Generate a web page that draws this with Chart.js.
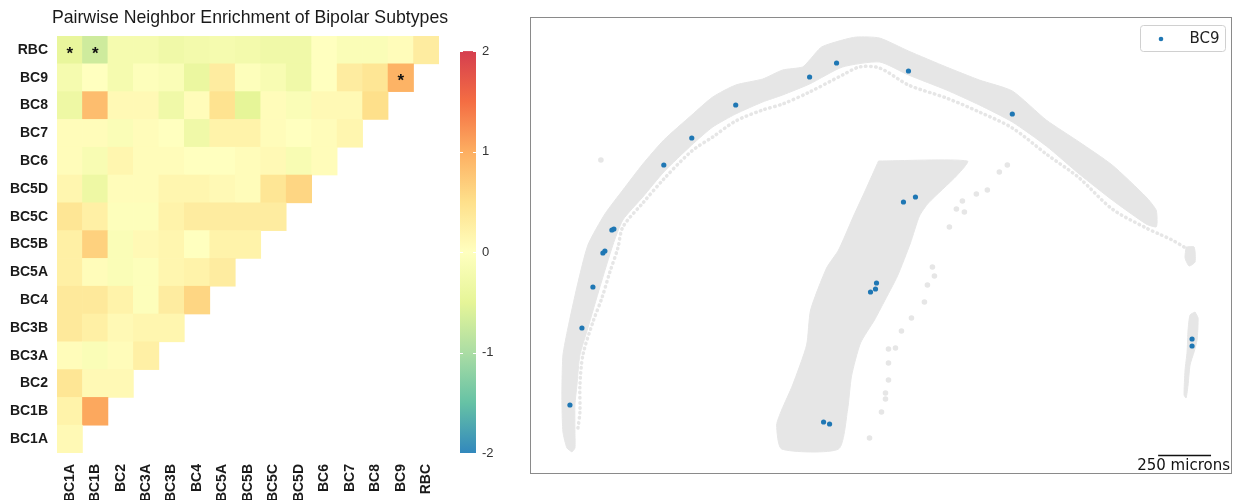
<!DOCTYPE html>
<html>
<head>
<meta charset="utf-8">
<script src="https://cdn.jsdelivr.net/npm/chart.js@4.4.0/dist/chart.umd.min.js"></script>
<style>
  html, body { margin: 0; padding: 0; background: #fff; }
  #wrap { position: relative; width: 1236px; height: 500px; overflow: hidden; }
  #heat { position: absolute; left: 0; top: 0; }
  #tissue { position: absolute; left: 520px; top: 0; }
</style>
</head>
<body>
<div id="wrap">
  <canvas id="heat" width="500" height="500"></canvas>
  <canvas id="tissue" width="716" height="500"></canvas>
</div>
<script>
// ---------- heatmap data ----------
var subtypes = ['BC1A', 'BC1B', 'BC2', 'BC3A', 'BC3B', 'BC4', 'BC5A', 'BC5B', 'BC5C', 'BC5D', 'BC6', 'BC7', 'BC8', 'BC9', 'RBC'];

// lower triangle, row i holds columns 0..i
var enrichBC1A = [0.1];
var enrichBC1B = [0.2, 1.05];
var enrichBC2  = [0.4, 0.1, 0.1];
var enrichBC3A = [0.05, -0.1, 0.05, 0.25];
var enrichBC3B = [0.35, 0.25, 0.1, 0.15, 0.15];
var enrichBC4  = [0.35, 0.35, 0.2, -0.05, 0.3, 0.6];
var enrichBC5A = [0.25, 0.05, -0.1, -0.05, 0.15, 0.2, 0.3];
var enrichBC5B = [0.25, 0.65, -0.1, 0.1, 0.15, 0.0, 0.2, 0.2];
var enrichBC5C = [0.4, 0.25, -0.05, -0.05, 0.2, 0.3, 0.3, 0.3, 0.3];
var enrichBC5D = [0.15, -0.35, 0.05, 0.05, 0.15, 0.15, 0.1, 0.05, 0.4, 0.6];
var enrichBC6  = [0.05, -0.15, 0.15, 0.05, 0.05, 0.0, 0.0, 0.05, 0.1, -0.15, 0.05];
var enrichBC7  = [0.05, 0.05, -0.1, 0.05, 0.0, -0.3, 0.2, 0.2, 0.05, 0.0, 0.05, 0.15];
var enrichBC8  = [-0.35, 0.85, 0.1, 0.1, -0.3, 0.05, 0.45, -0.5, 0.05, -0.1, 0.1, 0.1, 0.5];
var enrichBC9  = [-0.2, 0.0, -0.2, -0.05, -0.1, -0.4, 0.3, -0.05, -0.15, -0.3, 0.0, 0.3, 0.4, 0.95];
var enrichRBC  = [-0.45, -0.7, -0.2, -0.2, -0.3, -0.25, -0.2, -0.25, -0.3, -0.3, 0.0, -0.1, -0.1, 0.05, 0.3];

var enrichment = [enrichBC1A, enrichBC1B, enrichBC2, enrichBC3A, enrichBC3B, enrichBC4, enrichBC5A,
                  enrichBC5B, enrichBC5C, enrichBC5D, enrichBC6, enrichBC7, enrichBC8, enrichBC9, enrichRBC];

// significant pairs [row, col]
var significant = [['RBC', 'BC1A'], ['RBC', 'BC1B'], ['BC9', 'BC9']];

var colorbarTicks = [-2, -1, 0, 1, 2];

// ---------- tissue data (image units, 1 unit ~ 4.72 microns, y grows downward) ----------
var bc9Cells = [[307, 46], [280, 60], [206, 88], [162, 121], [134, 148], [82, 213], [84, 212], [379, 54],
  [483, 97], [374, 185], [386, 180], [75, 234], [73, 236], [63, 270], [52, 311], [40, 388], [347, 266],
  [346, 272], [341, 275], [294, 405], [300, 407], [663, 322], [663, 329]];

var arcOutline = [[42, 435], [37, 431], [33, 415], [32, 388], [32, 368], [33, 338], [38, 311], [47, 270],
  [58, 228], [75, 197], [93, 173], [113, 147], [134, 123], [162, 98], [183, 80], [206, 68], [233, 62],
  [253, 53], [273, 50], [280, 43], [292, 30], [313, 23], [327, 20], [350, 21], [379, 34], [417, 50],
  [450, 63], [483, 74], [517, 103], [550, 125], [583, 148], [617, 180], [627, 193], [628, 205],
  [627, 210], [617, 207], [583, 183], [550, 157], [517, 129], [483, 105], [450, 88], [417, 73],
  [379, 58], [350, 45], [313, 50], [280, 67], [253, 78], [233, 85], [206, 97], [183, 110], [162, 128],
  [134, 155], [113, 180], [93, 203], [83, 228], [70, 270], [58, 311], [50, 338], [47, 368], [45, 388],
  [45, 415], [45, 431], [42, 435]];

var innerRow = [[655, 230], [643, 223], [630, 217], [617, 211], [583, 192], [550, 161], [517, 137],
  [483, 111], [450, 95], [417, 81], [379, 68], [350, 51], [330, 50], [313, 58], [280, 75], [253, 87],
  [233, 93], [206, 104], [183, 120], [162, 134], [134, 162], [113, 186], [93, 210], [88, 231], [80, 255],
  [72, 281], [63, 305], [53, 338], [50, 368], [50, 395], [48, 411]];

var slabOutline = [[349, 144], [336, 173], [324, 199], [309, 233], [297, 251], [281, 293], [277, 328],
  [263, 368], [252, 393], [247, 408], [252, 432], [309, 432], [318, 393], [322, 359], [331, 326],
  [345, 303], [354, 286], [368, 259], [381, 226], [390, 199], [399, 186], [427, 159], [438, 144], [349, 144]];

var edgeUpper = [[657, 230], [665, 230], [666, 245], [660, 249], [656, 241], [657, 230]];
var edgeLower = [[666, 295], [669, 301], [668, 323], [665, 335], [661, 348], [659, 368], [657, 381],
  [655, 378], [656, 353], [658, 335], [659, 313], [661, 298], [666, 295]];

var strayCells = [[478, 148], [470, 155], [458, 173], [447, 177], [433, 184], [427, 192], [435, 195],
  [420, 210], [403, 250], [405, 259], [398, 268], [395, 285], [382, 301], [372, 314], [366, 331],
  [359, 332], [359, 346], [359, 363], [356, 376], [356, 382], [352, 395], [340, 421], [71, 143]];

var scaleBarMicrons = 250;
var micronsPerUnit = 4.72;

// ---------- helpers ----------
var spectral = ['#3288bd', '#66c2a5', '#abdda4', '#e6f598', '#ffffbf', '#fee08b', '#fdae61', '#f46d43', '#d53e4f'];

function hexToRgb(h) {
  return [parseInt(h.substr(1, 2), 16), parseInt(h.substr(3, 2), 16), parseInt(h.substr(5, 2), 16)];
}

function colorFor(v) {
  var t = (Math.max(-2, Math.min(2, v)) + 2) / 4 * 8;
  var i = Math.min(7, Math.floor(t)), f = t - i;
  var a = hexToRgb(spectral[i]), b = hexToRgb(spectral[i + 1]);
  return 'rgb(' + Math.round(a[0] + (b[0] - a[0]) * f) + ',' +
    Math.round(a[1] + (b[1] - a[1]) * f) + ',' + Math.round(a[2] + (b[2] - a[2]) * f) + ')';
}

function toXY(list) {
  return list.map(function (p) { return {x: p[0], y: p[1]}; });
}

// ---------- heatmap chart ----------
var heatFont = 'Liberation Sans, Arial, sans-serif';

var heatDatasets = enrichment.map(function (row, r) {
  return {
    label: subtypes[r],
    data: subtypes.map(function (s, j) { return j <= r ? [r, r + 1] : null; }),
    backgroundColor: subtypes.map(function (s, j) { return j <= r ? colorFor(row[j]) : 'rgba(0,0,0,0)'; }),
    borderWidth: 0,
    barPercentage: 1,
    categoryPercentage: 1,
    grouped: false
  };
});

var starPlugin = {
  id: 'stars',
  afterDatasetsDraw: function (chart) {
    var ctx = chart.ctx, xs = chart.scales.x, ys = chart.scales.y;
    ctx.save();
    ctx.fillStyle = '#111';
    ctx.font = 'bold 17px ' + heatFont;
    ctx.textAlign = 'center';
    ctx.textBaseline = 'middle';
    significant.forEach(function (p) {
      var r = subtypes.indexOf(p[0]), c = subtypes.indexOf(p[1]);
      ctx.fillText('*', xs.getPixelForValue(c), ys.getPixelForValue(r + 0.5) + 4);
    });
    ctx.restore();
  }
};

var colorbarPlugin = {
  id: 'colorbar',
  afterDraw: function (chart) {
    var ctx = chart.ctx, cb = chart.scales.cb;
    var top = cb.getPixelForValue(2), bottom = cb.getPixelForValue(-2);
    var x0 = cb.left + 21, w = 16;
    var g = ctx.createLinearGradient(0, bottom, 0, top);
    spectral.forEach(function (c, i) { g.addColorStop(i / (spectral.length - 1), c); });
    ctx.save();
    ctx.fillStyle = g;
    ctx.fillRect(x0, top, w, bottom - top);
    ctx.strokeStyle = '#fff';
    ctx.lineWidth = 1;
    colorbarTicks.forEach(function (v) {
      var y = Math.round(cb.getPixelForValue(v)) + 0.5;
      ctx.beginPath();
      ctx.moveTo(x0, y); ctx.lineTo(x0 + 3, y);
      ctx.moveTo(x0 + w - 3, y); ctx.lineTo(x0 + w, y);
      ctx.stroke();
    });
    ctx.restore();
  }
};

new Chart(document.getElementById('heat').getContext('2d'), {
  type: 'bar',
  data: { labels: subtypes, datasets: heatDatasets },
  options: {
    responsive: false,
    animation: false,
    layout: { padding: 0 },
    plugins: {
      legend: { display: false },
      tooltip: { enabled: false },
      title: {
        display: true,
        text: 'Pairwise Neighbor Enrichment of Bipolar Subtypes',
        color: '#1a1a1a',
        font: { family: heatFont, size: 17.7, weight: 'normal' },
        padding: { top: 7, bottom: 7.8 }
      }
    },
    scales: {
      x: {
        type: 'category',
        grid: { display: false, drawTicks: false },
        border: { display: false },
        ticks: {
          color: '#1a1a1a',
          font: { family: heatFont, size: 14, weight: 'bold' },
          minRotation: 90, maxRotation: 90, padding: 11, autoSkip: false
        },
        afterFit: function (s) { s.height = 47; s.paddingLeft = 0; s.paddingRight = 0; }
      },
      y: {
        type: 'linear', min: 0, max: 15, position: 'left',
        grid: { display: false, drawTicks: false },
        border: { display: false },
        afterBuildTicks: function (s) {
          s.ticks = subtypes.map(function (t, i) { return {value: i + 0.5}; });
        },
        ticks: {
          color: '#1a1a1a',
          font: { family: heatFont, size: 14, weight: 'bold' },
          padding: 9,
          callback: function (v) { return subtypes[Math.floor(v)]; }
        },
        afterFit: function (s) { s.width = 57; s.paddingTop = 0; s.paddingBottom = 0; }
      },
      cb: {
        type: 'linear', min: -2, max: 2.15, position: 'right',
        grid: { display: false, drawTicks: false },
        border: { display: false },
        afterBuildTicks: function (s) {
          s.ticks = colorbarTicks.map(function (v) { return {value: v}; });
        },
        ticks: { color: '#333', font: { family: heatFont, size: 13 }, padding: 43 },
        afterFit: function (s) { s.width = 61; s.paddingTop = 0; s.paddingBottom = 0; }
      }
    }
  },
  plugins: [starPlugin, colorbarPlugin]
});

// ---------- tissue scatter chart ----------
var tissueFont = 'DejaVu Sans, sans-serif';
var grey = '#e6e6e6';

function outline(label, pts, order) {
  return {
    label: label, data: toXY(pts), showLine: true, fill: 'shape',
    backgroundColor: grey, borderColor: grey, borderWidth: 1,
    pointRadius: 0, pointHitRadius: 0, tension: 0.2, order: order
  };
}

var framePlugin = {
  id: 'frame',
  afterDraw: function (chart) {
    var ctx = chart.ctx, ca = chart.chartArea, xs = chart.scales.x, ys = chart.scales.y;
    ctx.save();
    // frame
    ctx.strokeStyle = '#8a8a8a';
    ctx.lineWidth = 1;
    ctx.strokeRect(Math.round(ca.left) + 0.5, Math.round(ca.top) + 0.5,
      Math.round(ca.right - ca.left) - 1, Math.round(ca.bottom - ca.top) - 1);
    // legend
    var bx = ca.right - 91.5, by = ca.top + 8.5, bw = 85, bh = 26;
    ctx.fillStyle = 'rgba(255,255,255,0.8)';
    ctx.strokeStyle = '#d0d0d0';
    ctx.beginPath();
    ctx.roundRect(bx, by, bw, bh, 3);
    ctx.fill();
    ctx.stroke();
    ctx.fillStyle = '#1f77b4';
    ctx.beginPath();
    ctx.arc(bx + 20.5, by + 13.5, 2.3, 0, Math.PI * 2);
    ctx.fill();
    ctx.fillStyle = '#222';
    ctx.font = '15px ' + tissueFont;
    ctx.textAlign = 'left';
    ctx.textBaseline = 'middle';
    ctx.fillText(chart.data.datasets[0].label, bx + 49, by + 13.5);
    // scale bar
    var barEnd = 682, barY = 438;
    var x1 = xs.getPixelForValue(barEnd - scaleBarMicrons / micronsPerUnit);
    var x2 = xs.getPixelForValue(barEnd);
    var y = Math.round(ys.getPixelForValue(barY)) + 0.5;
    ctx.strokeStyle = '#111';
    ctx.lineWidth = 1.5;
    ctx.beginPath();
    ctx.moveTo(x1, y); ctx.lineTo(x2, y);
    ctx.stroke();
    ctx.fillStyle = '#111';
    ctx.textAlign = 'center';
    ctx.textBaseline = 'alphabetic';
    ctx.fillText(scaleBarMicrons + ' microns', (x1 + x2) / 2 - 1, y + 14);
    ctx.restore();
  }
};

new Chart(document.getElementById('tissue').getContext('2d'), {
  type: 'scatter',
  data: {
    datasets: [
      { label: 'BC9', data: toXY(bc9Cells), backgroundColor: '#1f77b4', borderWidth: 0, pointRadius: 2.6, order: 0 },
      { label: 'other', data: toXY(strayCells), backgroundColor: grey, borderWidth: 0, pointRadius: 2.8, order: 1 },
      {
        label: 'inner row', data: toXY(innerRow), showLine: true, fill: false,
        borderColor: grey, borderWidth: 3.5, borderDash: [0.5, 4.5], borderCapStyle: 'round',
        pointRadius: 0, pointHitRadius: 0, tension: 0.3, order: 2
      },
      outline('arc', arcOutline, 3),
      outline('slab', slabOutline, 4),
      outline('edge 1', edgeUpper, 5),
      outline('edge 2', edgeLower, 6)
    ]
  },
  options: {
    responsive: false,
    animation: false,
    layout: { padding: { left: 10, top: 17, right: 3, bottom: 26 } },
    plugins: { legend: { display: false }, tooltip: { enabled: false } },
    scales: {
      x: { type: 'linear', min: 0, max: 703, display: false },
      y: { type: 'linear', min: 0, max: 457, reverse: true, display: false }
    }
  },
  plugins: [framePlugin]
});
</script>
</body>
</html>
